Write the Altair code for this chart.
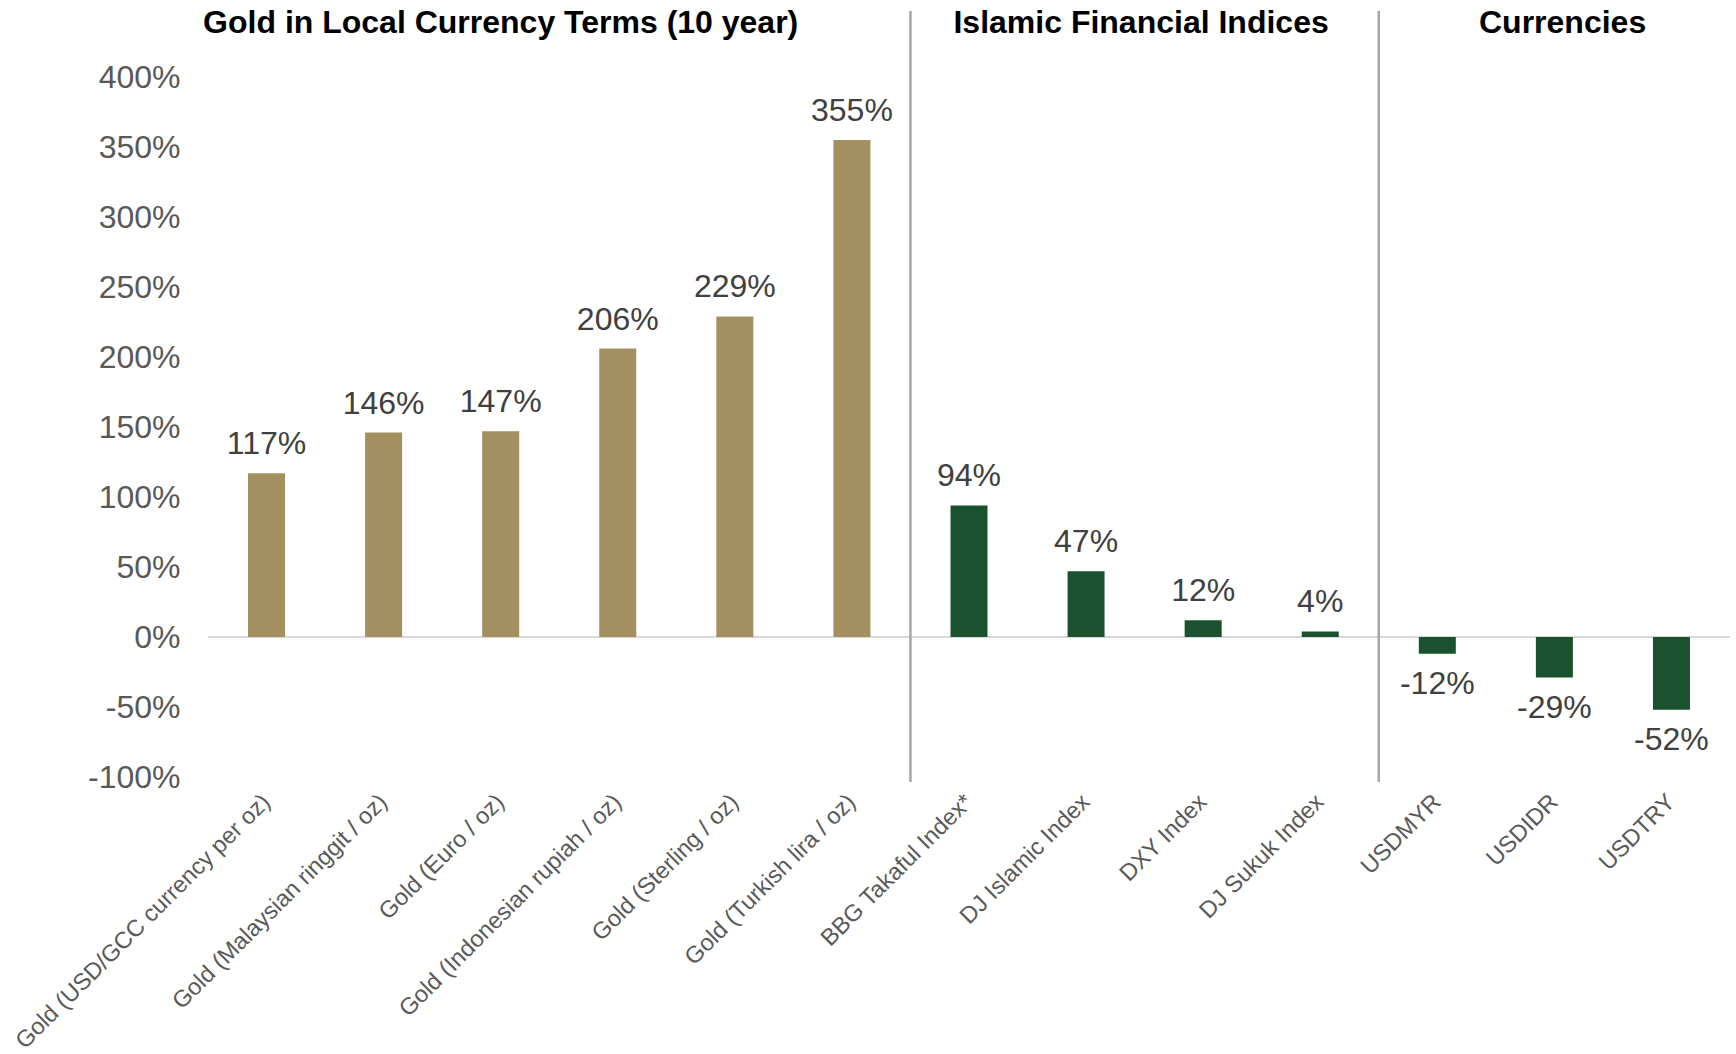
import altair as alt
import pandas as pd

categories = [
    "Gold (USD/GCC currency per oz)",
    "Gold (Malaysian ringgit / oz)",
    "Gold (Euro / oz)",
    "Gold (Indonesian rupiah / oz)",
    "Gold (Sterling / oz)",
    "Gold (Turkish lira / oz)",
    "BBG Takaful Index*",
    "DJ Islamic Index",
    "DXY Index",
    "DJ Sukuk Index",
    "USDMYR",
    "USDIDR",
    "USDTRY",
]
values = [117, 146, 147, 206, 229, 355, 94, 47, 12, 4, -12, -29, -52]
groups = ["gold"] * 6 + ["green"] * 7

section_titles = ["Gold in Local Currency Terms (10 year)", "Islamic Financial Indices", "Currencies"]
section_anchor = ["Gold (Euro / oz)", "DJ Islamic Index", "USDIDR"]
section_band_pos = [0.5, 0.97, 0.57]
separator_after = ["Gold (Turkish lira / oz)", "DJ Sukuk Index"]

df = pd.DataFrame({"cat": categories, "value": values, "group": groups})
df["label"] = [f"{v}%" for v in values]

FONT = "Liberation Sans"
W, H = 1522, 700

xscale = alt.Scale(domain=categories, paddingInner=0, paddingOuter=0)
yscale = alt.Scale(domain=[-100, 400], nice=False, zero=False)

x_enc = alt.X(
    "cat:N", sort=categories, scale=xscale, title=None,
    axis=alt.Axis(labelAngle=-45, labelAlign="right", labelBaseline="middle",
                  labelFontSize=23.5, labelColor="#595959", labelFont=FONT,
                  labelPadding=21, ticks=False, domain=False, labelLimit=500),
)
y_enc = alt.Y(
    "value:Q", scale=yscale, title=None,
    axis=alt.Axis(values=[-100, -50, 0, 50, 100, 150, 200, 250, 300, 350, 400],
                  labelExpr="datum.value + '%'", labelFontSize=32, labelColor="#595959",
                  labelFont=FONT, labelPadding=28, ticks=False, domain=False, grid=False),
)

base = alt.Chart(df)

zero = alt.Chart(pd.DataFrame({"z": [0]})).mark_rule(color="#d9d9d9", strokeWidth=2).encode(
    y=alt.Y("z:Q", scale=yscale)
)

bars = base.mark_bar(size=37).encode(
    x=x_enc, y=y_enc, y2=alt.datum(0),
    color=alt.Color("group:N", scale=alt.Scale(domain=["gold", "green"], range=["#A38F5F", "#1A5230"]), legend=None),
)

pos_labels = base.transform_filter("datum.value >= 0").mark_text(
    baseline="bottom", dy=-12, fontSize=32, font=FONT, color="#404040"
).encode(x=alt.X("cat:N", sort=categories, scale=xscale), y=alt.Y("value:Q", scale=yscale), text="label:N")

neg_labels = base.transform_filter("datum.value < 0").mark_text(
    baseline="top", dy=15, fontSize=32, font=FONT, color="#404040"
).encode(x=alt.X("cat:N", sort=categories, scale=xscale), y=alt.Y("value:Q", scale=yscale), text="label:N")

sep_df = pd.DataFrame({"cat": separator_after})
separators = alt.Chart(sep_df).mark_rule(color="#a6a6a6", strokeWidth=2.5).encode(
    x=alt.X("cat:N", sort=categories, scale=xscale, bandPosition=1),
    y=alt.value(-66), y2=alt.value(705),
)

titles = []
for t, a, bp in zip(section_titles, section_anchor, section_band_pos):
    tdf = pd.DataFrame({"cat": [a], "title": [t]})
    titles.append(
        alt.Chart(tdf).mark_text(fontSize=32, fontWeight="bold", font=FONT, color="#000000", baseline="middle").encode(
            x=alt.X("cat:N", sort=categories, scale=xscale, bandPosition=bp),
            y=alt.value(-54), text="title:N",
        )
    )

chart = alt.layer(zero, separators, bars, pos_labels, neg_labels, *titles).properties(
    width=W, height=H,
    background="white",
    autosize=alt.AutoSizeParams(type="none"),
    padding={"left": 208, "top": 77, "right": 6, "bottom": 277},
).configure_view(stroke=None)

chart.save("out.html", embed_options={"renderer": "svg", "actions": False})
